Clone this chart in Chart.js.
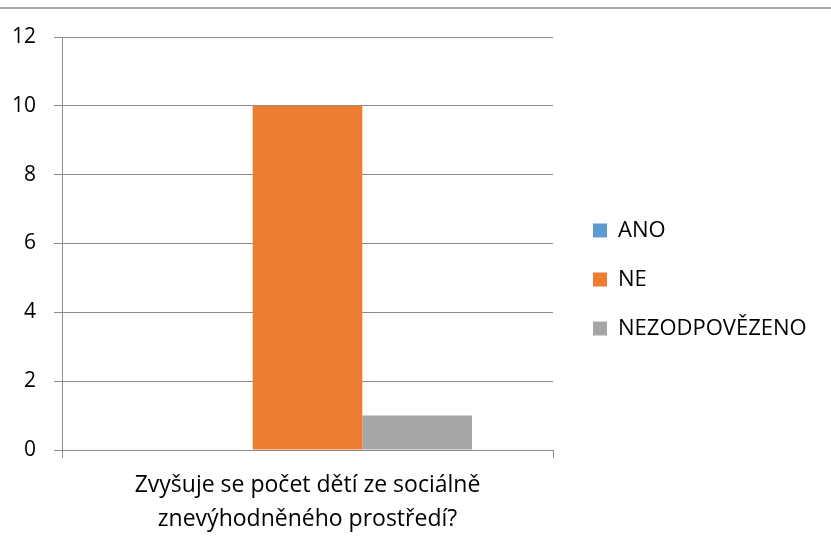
<!DOCTYPE html>
<html>
<head>
<meta charset="utf-8">
<script src="https://cdn.jsdelivr.net/npm/chart.js@4"></script>
<style>
  html, body { margin: 0; padding: 0; background: #fff; }
  #wrap { position: relative; width: 831px; height: 543px; }
  #topline { position: absolute; left: 0; top: 7px; width: 831px; height: 0; border-top: 2px solid #a6a6a6; }
  canvas { position: absolute; left: 0; top: 0; }
</style>
</head>
<body>
<div id="wrap">
  <div id="topline"></div>
  <canvas id="c" width="831" height="543"></canvas>
</div>
<script>
const categories = [['Zvyšuje se počet dětí ze sociálně', 'znevýhodněného prostředí?']];
const seriesNames = ['ANO', 'NE', 'NEZODPOVĚZENO'];
const anoValues = [0];
const neValues = [10];
const nezodpovezenoValues = [1];
const seriesColors = ['#5B9BD5', '#ED7D31', '#A5A5A5'];
const yTicks = [0, 2, 4, 6, 8, 10, 12];

const FONT = '"Open Sans", sans-serif';
const LEGEND_WIDTH = 278;
const LEGEND_SHIFT_X = 13;
const LEGEND_SHIFT_Y = -7;

const legendGap = {
  id: 'legendGap',
  beforeInit(chart) {
    const lg = chart.legend;
    if (lg && !lg._patched) {
      const f = lg.fit;
      lg.fit = function () { f.call(this); this.width = LEGEND_WIDTH; };
      lg._patched = true;
    }
  },
  afterLayout(chart) {
    const lg = chart.legend;
    if (lg) {
      lg.left += LEGEND_SHIFT_X; lg.right += LEGEND_SHIFT_X;
      lg.top += LEGEND_SHIFT_Y; lg.bottom += LEGEND_SHIFT_Y;
    }
  }
};

new Chart(document.getElementById('c'), {
  type: 'bar',
  data: {
    labels: categories,
    datasets: [
      { label: seriesNames[0], data: anoValues, backgroundColor: seriesColors[0] },
      { label: seriesNames[1], data: neValues, backgroundColor: seriesColors[1] },
      { label: seriesNames[2], data: nezodpovezenoValues, backgroundColor: seriesColors[2] }
    ]
  },
  plugins: [legendGap],
  options: {
    responsive: false,
    animation: false,
    events: [],
    layout: { padding: { left: 14, right: 0, top: 37, bottom: 7 } },
    datasets: { bar: { categoryPercentage: 0.67, barPercentage: 1.0, borderWidth: 0 } },
    plugins: {
      tooltip: { enabled: false },
      legend: {
        position: 'right',
        align: 'center',
        labels: {
          boxWidth: 14,
          boxHeight: 14,
          padding: 27,
          color: '#000',
          font: { family: FONT, size: 22 }
        }
      }
    },
    scales: {
      x: {
        afterFit(axis) { axis.height = 86; },
        grid: { display: true, drawOnChartArea: false, drawTicks: true, tickLength: 8, color: '#8c8c8c', offset: true },
        border: { display: true, color: '#8c8c8c', width: 1 },
        ticks: { color: '#000', padding: 11, maxRotation: 0, font: { family: FONT, size: 23, lineHeight: 1.465 } }
      },
      y: {
        min: 0,
        max: 12,
        afterBuildTicks(axis) { axis.ticks = yTicks.map(v => ({ value: v })); },
        afterFit(axis) { axis.width = 48; },
        grid: { color: '#8c8c8c', lineWidth: 1, drawTicks: true, tickLength: 8 },
        border: { display: true, color: '#8c8c8c', width: 1 },
        ticks: { color: '#000', padding: 18, font: { family: FONT, size: 21 } }
      }
    }
  }
});
</script>
</body>
</html>
